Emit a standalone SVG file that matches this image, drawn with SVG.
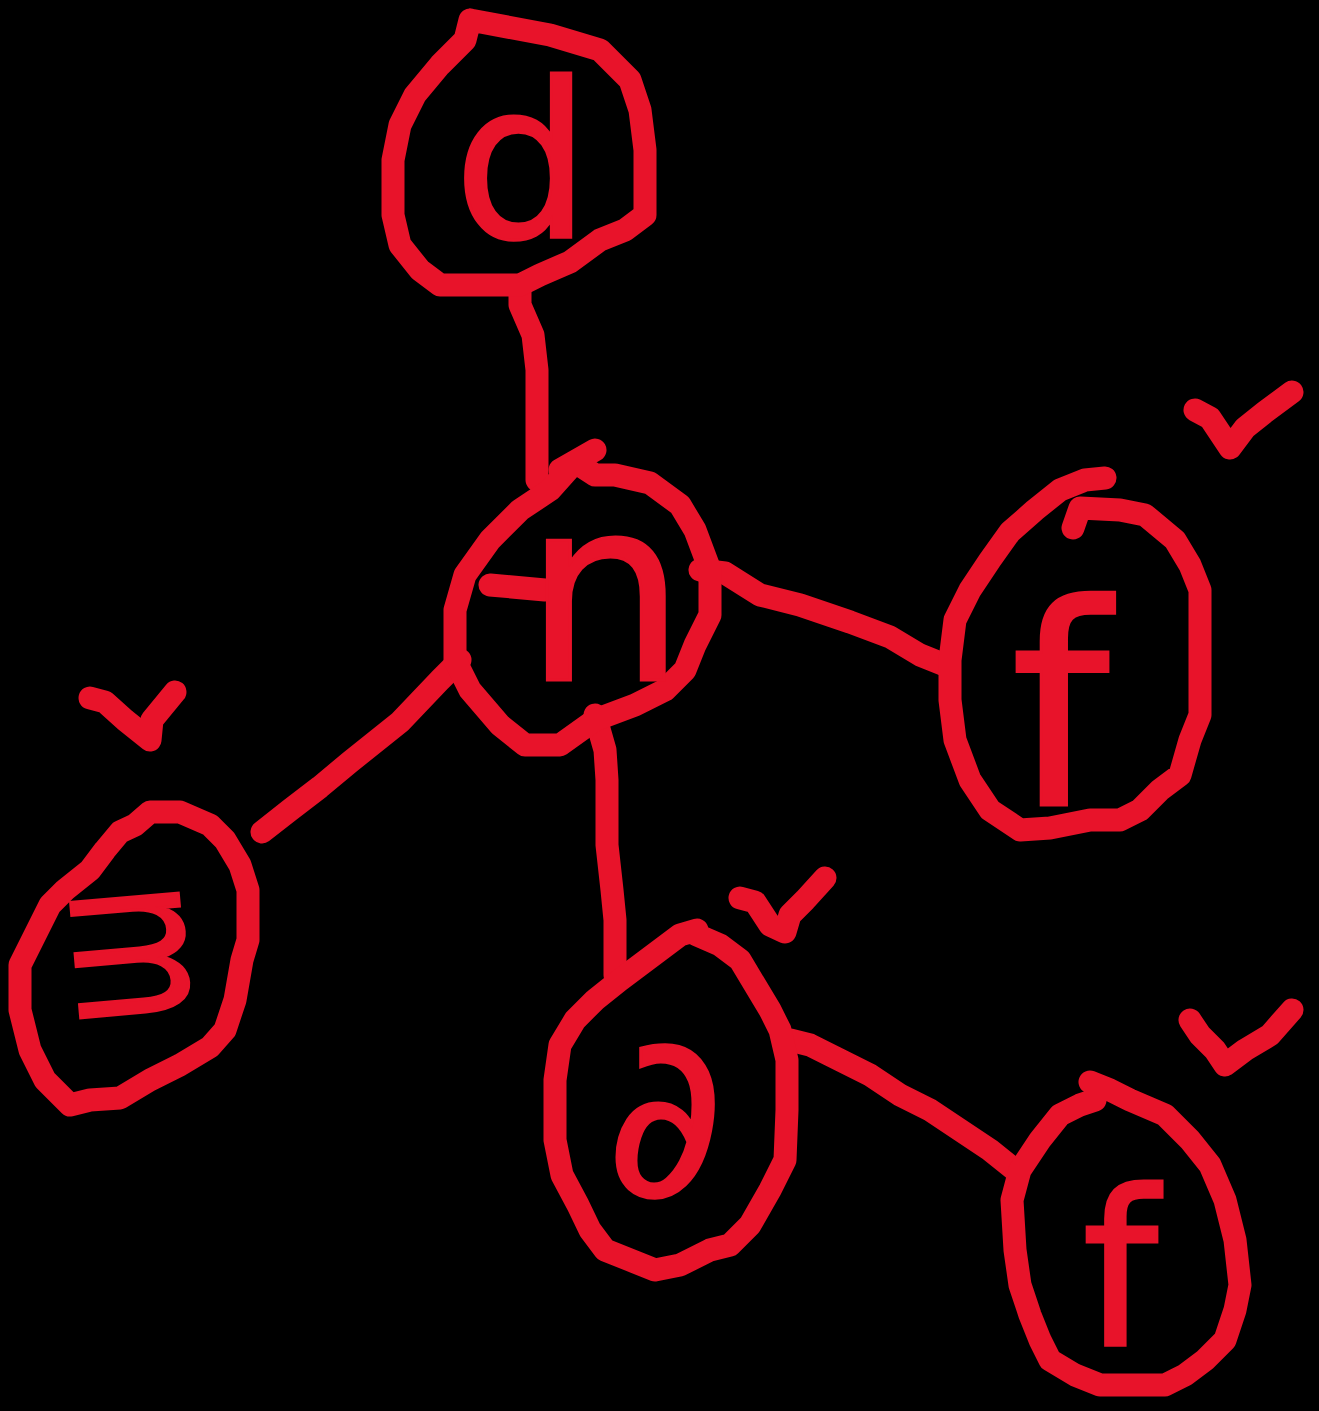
<svg xmlns="http://www.w3.org/2000/svg" width="1319" height="1411" viewBox="0 0 1319 1411">
<style>
.s{fill:none;stroke:#E8132A;stroke-width:23;stroke-linecap:round;stroke-linejoin:round}
.t{fill:#E8132A;stroke:#E8132A;stroke-width:3;font-family:"DejaVu Sans","Liberation Sans",sans-serif;text-anchor:middle}
</style>
<rect width="1319" height="1411" fill="#000"/>
<g id="connectors">
<path class="s" d="M520,285 L520,305 L533,335 L537,370 L537,480"/>
<path class="s" d="M700,570 L725,573 L760,595 L800,605 L850,622 L890,637 L920,655 L945,665"/>
<path class="s" d="M460,660 L440,680 L400,722 L375,742 L350,762 L320,787 L290,810 L262,832"/>
<path class="s" d="M595,715 L605,750 L607,780 L607,845 L612,890 L615,920 L615,975"/>
<path class="s" d="M790,1040 L810,1045 L840,1060 L870,1075 L900,1095 L930,1110 L960,1130 L990,1150 L1015,1170"/>
</g>
<g id="node-d">
<path class="s" d="M470,20 L550,35 L600,50 L630,80 L640,110 L645,150 L645,215 L625,230 L600,240 L570,262 L540,275 L520,285 L440,285 L420,270 L400,245 L393,215 L393,160 L400,125 L415,95 L440,65 L465,40 L470,20"/>
<text class="t" x="522" y="237" font-size="215">d</text>
</g>
<g id="node-n">
<path class="s" d="M560,470 L595,450 M595,475 L575,462 L550,490 L520,510 L490,540 L465,575 L455,610 L455,660 L470,690 L500,725 L525,745 L560,745 L595,720 L635,705 L665,690 L685,670 L695,645 L710,615 L710,570 L695,530 L680,505 L650,483 L615,475 Z"/>
<path class="s" d="M490,585 L545,590"/>
<text class="t" x="605" y="680" font-size="255">n</text>
</g>
<g id="node-f1">
<path class="s" d="M1105,478 L1085,480 L1060,490 L1035,510 L1010,532 L990,560 L970,590 L955,620 L950,660 L950,700 L955,740 L970,780 L990,810 L1020,830 L1050,828 L1090,820 L1120,820 L1140,810 L1160,790 L1180,775 L1190,740 L1200,715 L1200,590 L1190,565 L1175,540 L1145,515 L1120,510 L1080,508 L1073,528"/>
<text class="t" x="1060" y="805" font-size="280">f</text>
<path class="s" d="M1195,410 L1210,418 L1230,448 L1245,428 L1265,412 L1292,392"/>
</g>
<g id="node-m">
<path class="s" d="M135,825 L120,832 L105,850 L90,870 L65,890 L50,905 L35,935 L20,965 L20,1010 L30,1050 L45,1080 L70,1105 L90,1100 L120,1098 L150,1080 L180,1065 L210,1047 L225,1030 L235,1000 L242,960 L248,940 L248,890 L240,865 L225,840 L210,825 L180,812 L150,812 Z"/>
<text class="t" x="0" y="40" font-size="145" transform="translate(130,955) rotate(85) scale(1,1.35)">m</text>
<path class="s" d="M90,698 L105,702 L125,720 L150,740 L152,720 L175,692"/>
</g>
<g id="node-a">
<path class="s" d="M697,930 L680,935 L660,950 L640,965 L620,980 L595,1000 L575,1020 L560,1045 L555,1080 L555,1140 L562,1175 L578,1205 L590,1230 L605,1250 L635,1262 L655,1270 L680,1265 L710,1250 L730,1245 L750,1225 L770,1190 L785,1160 L787,1110 L787,1060 L780,1030 L770,1010 L755,985 L740,960 L720,945 L697,935"/>
<text class="t" x="665" y="1195" font-size="227">∂</text>
<path class="s" d="M740,898 L755,902 L770,925 L785,932 L790,915 L805,900 L825,878"/>
</g>
<g id="node-f2">
<path class="s" d="M1090,1082 L1110,1090 L1130,1100 L1165,1115 L1190,1140 L1210,1165 L1225,1200 L1235,1240 L1240,1285 L1235,1310 L1225,1340 L1205,1360 L1185,1375 L1165,1385 L1100,1385 L1075,1375 L1050,1360 L1040,1340 L1030,1315 L1020,1285 L1015,1250 L1012,1200 L1020,1170 L1040,1140 L1060,1115 L1080,1105 L1095,1100"/>
<text class="t" x="1120" y="1345" font-size="215">f</text>
<path class="s" d="M1190,1020 L1200,1035 L1215,1050 L1225,1065 L1245,1050 L1270,1035 L1292,1010"/>
</g>
</svg>
